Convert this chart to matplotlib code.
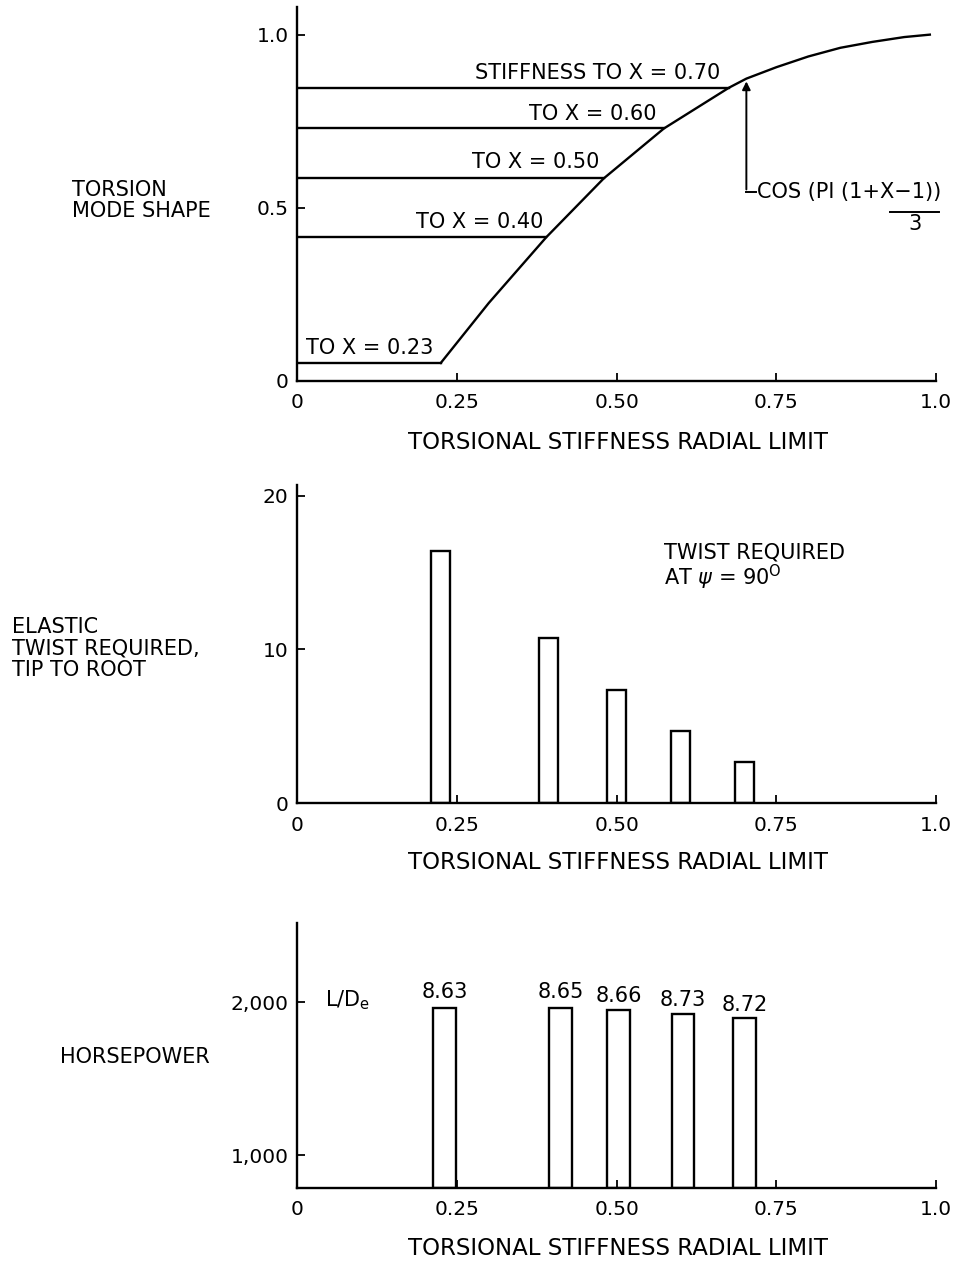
import numpy as np
import matplotlib.pyplot as plt

plt.rcParams['font.family'] = ['DejaVu Sans']
plt.rcParams['mathtext.fontset'] = 'dejavusans'

# mode shape curve
curve_x = [0.225, 0.30, 0.39, 0.48, 0.574, 0.676, 0.703, 0.75, 0.80, 0.85, 0.90, 0.95, 0.99]
curve_y = [0.052, 0.225, 0.415, 0.585, 0.729, 0.847, 0.873, 0.906, 0.937, 0.962, 0.979, 0.993, 1.0]

# stiffness limits and their horizontal levels
limit_labels = ['TO X = 0.23', 'TO X = 0.40', 'TO X = 0.50', 'TO X = 0.60', 'STIFFNESS TO X = 0.70']
level_y = [0.052, 0.415, 0.585, 0.729, 0.847]
level_end = [0.225, 0.39, 0.48, 0.574, 0.676]

# elastic twist bars
twist_x = [0.224, 0.393, 0.50, 0.60, 0.70]
twist = [16.4, 10.75, 7.35, 4.7, 2.65]

# horsepower bars
hp_x = [0.231, 0.412, 0.503, 0.604, 0.70]
hp = [1961, 1961, 1950, 1924, 1898]
ld = ['8.63', '8.65', '8.66', '8.73', '8.72']

xticks = [0, 0.25, 0.5, 0.75, 1.0]
xticklabels = ['0', '0.25', '0.50', '0.75', '1.0']

FS = 15
LW = 1.7

fig = plt.figure(figsize=(9.57, 12.61), dpi=100)
ax1 = fig.add_axes([0.3103, 0.6979, 0.668, 0.2966])
ax2 = fig.add_axes([0.3103, 0.3632, 0.668, 0.2522])
ax3 = fig.add_axes([0.3103, 0.0579, 0.668, 0.2102])

for ax in (ax1, ax2, ax3):
    ax.spines['top'].set_visible(False)
    ax.spines['right'].set_visible(False)
    ax.spines['left'].set_linewidth(LW)
    ax.spines['bottom'].set_linewidth(LW)
    ax.set_xlim(0, 1.0)
    ax.set_xticks(xticks)
    ax.set_xticklabels(xticklabels)
    ax.tick_params(direction='in', length=6, width=1.3, labelsize=14.5)
    ax.tick_params(axis='x', pad=9)
    ax.tick_params(axis='y', pad=6)

# top chart
ax1.set_ylim(0, 1.08)
ax1.set_yticks([0, 0.5, 1.0])
ax1.set_yticklabels(['0', '0.5', '1.0'])
ax1.plot(curve_x, curve_y, color='black', lw=LW)
for yv, xe in zip(level_y, level_end):
    ax1.plot([0, xe], [yv, yv], color='black', lw=LW)
lab_pos = [(0.114, 0.095), (0.286, 0.458), (0.374, 0.631), (0.462, 0.772), (0.471, 0.888)]
for t, (tx, ty) in zip(limit_labels, lab_pos):
    ax1.text(tx, ty, t, ha='center', va='center', fontsize=FS)
ax1.annotate('', xy=(0.703, 0.873), xytext=(0.703, 0.545),
             arrowprops=dict(arrowstyle='-|>', color='black', lw=1.4, mutation_scale=12))
ax1.plot([0.703, 0.718], [0.545, 0.545], color='black', lw=1.4, clip_on=False)
ax1.text(0.72, 0.545, 'COS (PI (1+X\u22121))', ha='left', va='center', fontsize=FS)
ax1.plot([0.928, 1.005], [0.487, 0.487], color='black', lw=1.4, clip_on=False)
ax1.text(0.967, 0.452, '3', ha='center', va='center', fontsize=FS)

# middle chart
ax2.set_ylim(0, 20.7)
ax2.set_yticks([0, 10, 20])
ax2.set_yticklabels(['0', '10', '20'])
ax2.bar(twist_x, twist, width=0.03, facecolor='white', edgecolor='black', lw=LW)
ax2.text(0.574, 16.3, 'TWIST REQUIRED', ha='left', va='center', fontsize=FS)
ax2.text(0.574, 14.7, 'AT $\\psi$ = 90$^{\\mathrm{O}}$', ha='left', va='center', fontsize=FS)

# bottom chart
ax3.set_ylim(784, 2520)
ax3.set_yticks([1000, 2000])
ax3.set_yticklabels(['1,000', '2,000'])
ax3.bar(hp_x, np.array(hp) - 784, bottom=784, width=0.035,
        facecolor='white', edgecolor='black', lw=LW)
ld_y = [2065, 2065, 2040, 2018, 1984]
for xv, yv, t in zip(hp_x, ld_y, ld):
    ax3.text(xv, yv, t, ha='center', va='center', fontsize=FS)
ax3.text(0.08, 2011, 'L/D$_{\\mathrm{e}}$', ha='center', va='center', fontsize=FS)

# axis titles
fig.text(0.075, 0.841, 'TORSION\nMODE SHAPE', ha='left', va='center', fontsize=FS, linespacing=1.1)
fig.text(0.0125, 0.486, 'ELASTIC\nTWIST REQUIRED,\nTIP TO ROOT', ha='left', va='center', fontsize=FS, linespacing=1.1)
fig.text(0.063, 0.162, 'HORSEPOWER', ha='left', va='center', fontsize=FS)
for yy in (0.649, 0.316, 0.0103):
    fig.text(0.646, yy, 'TORSIONAL STIFFNESS RADIAL LIMIT', ha='center', va='center', fontsize=16.5)

fig.savefig('out.png', dpi=100)
